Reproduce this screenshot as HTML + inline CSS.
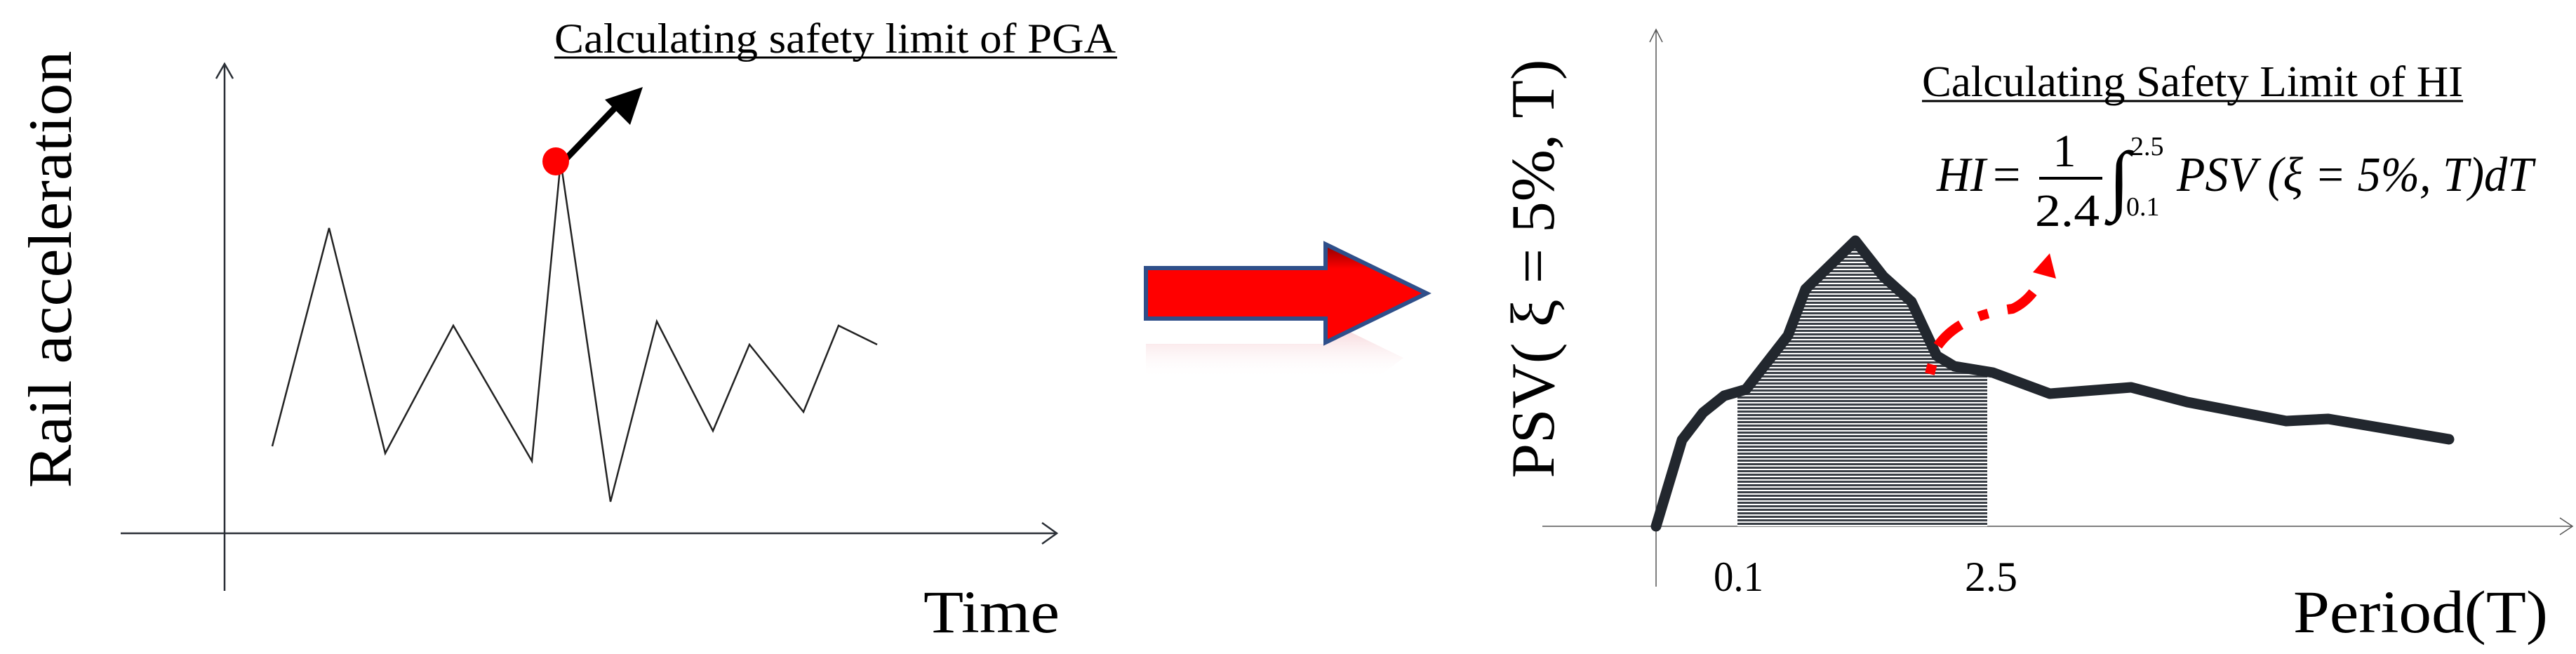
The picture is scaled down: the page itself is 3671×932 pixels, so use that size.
<!DOCTYPE html>
<html><head><meta charset="utf-8"><style>
html,body{margin:0;padding:0;background:#fff;}
svg{display:block;}
</style></head><body>
<svg width="3671" height="932" viewBox="0 0 3671 932" xmlns="http://www.w3.org/2000/svg" font-family="Liberation Serif, serif">
<defs>
<pattern id="stripes" width="10" height="5" patternUnits="userSpaceOnUse">
<rect width="10" height="5" fill="#fff"/><rect width="10" height="3" fill="#3a3f46"/>
</pattern>
<linearGradient id="rg" x1="0" y1="0" x2="0" y2="1">
<stop offset="0" stop-color="#8a0000"/><stop offset="0.25" stop-color="#f00"/><stop offset="1" stop-color="#f00"/>
</linearGradient>
<linearGradient id="refl" x1="0" y1="0" x2="0" y2="1">
<stop offset="0" stop-color="#f3c0c6" stop-opacity="0.9"/><stop offset="1" stop-color="#fff" stop-opacity="0"/>
</linearGradient>
</defs>

<!-- LEFT PLOT -->
<g stroke="#2a2f36" fill="none" stroke-width="2.5">
<line x1="320" y1="91" x2="320" y2="842"/>
<polyline points="308,112 320,91 332,112"/>
<line x1="172" y1="760" x2="1506" y2="760"/>
<polyline points="1485,745 1506,760 1485,775"/>
</g>
<polyline fill="none" stroke="#222" stroke-width="2.5" points="388,636 469,325 549,646 646,464 758,657 799,230 870,715 936,458 1016,614 1068,491 1145,587 1195,464 1250,491"/>
<line x1="805" y1="228" x2="880" y2="150" stroke="#000" stroke-width="9"/>
<polygon points="916,124 862,142 898,178" fill="#000"/>
<ellipse cx="792" cy="230" rx="19" ry="20" fill="#f00"/>
<text x="790" y="75" font-family="Liberation Serif, serif" font-size="60" textLength="800" lengthAdjust="spacingAndGlyphs">Calculating safety limit of PGA</text>
<line x1="790" y1="82" x2="1592" y2="82" stroke="#000" stroke-width="3"/>
<text transform="translate(101,384) rotate(-90)" text-anchor="middle" font-family="Liberation Serif, serif" font-size="88" textLength="623" lengthAdjust="spacingAndGlyphs">Rail acceleration</text>
<text x="1316" y="901" font-family="Liberation Serif, serif" font-size="86" textLength="194" lengthAdjust="spacingAndGlyphs">Time</text>

<!-- BIG ARROW -->
<polygon points="1633,490 1889,490 1889,456 2000,510 1960,540 1633,540" fill="url(#refl)" transform="translate(0,0)"/>
<polygon points="1633,382 1889,382 1889,348 2033,418 1889,488 1889,454 1633,454" fill="url(#rg)" stroke="#2f4f8a" stroke-width="6"/>

<!-- RIGHT PLOT -->
<g stroke="#555" fill="none" stroke-width="1.5">
<line x1="2360" y1="42" x2="2360" y2="836"/>
<polyline points="2351,60 2360,42 2369,60"/>
<line x1="2198" y1="750" x2="3666" y2="750"/>
<polyline points="3648,738 3666,750 3648,762"/>
</g>
<polygon fill="url(#stripes)" points="2476,750 2476,558 2488,555 2548,478 2573,412 2644,343 2684,394 2724,430 2760,507 2785,522 2832,530 2832,750"/>
<polyline fill="none" stroke="#22272e" stroke-width="15" stroke-linejoin="round" stroke-linecap="round" points="2360,750 2397,627 2427,588 2457,564 2488,555 2548,478 2573,412 2644,343 2684,394 2724,430 2760,507 2785,522 2840,531 2921,561 3037,552 3117,573 3258,600 3318,597 3490,626"/>
<path d="M2750,533 L2760,495 Q2790,450 2868,440 Q2890,430 2905,405" fill="none" stroke="#f00" stroke-width="14" stroke-dasharray="14,28,45,28"/>
<polygon points="2921,361 2897,388 2930,397" fill="#f00"/>

<text x="2739" y="137" font-family="Liberation Serif, serif" font-size="62" textLength="771" lengthAdjust="spacingAndGlyphs">Calculating Safety Limit of HI</text>
<line x1="2739" y1="144" x2="3510" y2="144" stroke="#000" stroke-width="3"/>
<text x="2760" y="272" font-family="Liberation Serif, serif" font-size="70" font-style="italic" textLength="70" lengthAdjust="spacingAndGlyphs">HI</text>
<text x="2840" y="272" font-family="Liberation Serif, serif" font-size="70">=</text>
<text x="2942" y="237" font-family="Liberation Serif, serif" font-size="66" text-anchor="middle">1</text>
<line x1="2906" y1="254" x2="2996" y2="254" stroke="#000" stroke-width="4"/>
<text x="2900" y="322" font-family="Liberation Serif, serif" font-size="66" textLength="92" lengthAdjust="spacingAndGlyphs">2.4</text>
<text x="3005" y="292" font-family="Liberation Serif, serif" font-size="110" font-style="italic" textLength="30" lengthAdjust="spacingAndGlyphs">∫</text>
<text x="3036" y="221" font-family="Liberation Serif, serif" font-size="38">2.5</text>
<text x="3030" y="307" font-family="Liberation Serif, serif" font-size="38">0.1</text>
<text x="3102" y="272" font-family="Liberation Serif, serif" font-size="70" font-style="italic" textLength="508" lengthAdjust="spacingAndGlyphs">PSV (ξ = 5%, T)dT</text>

<text x="2442" y="842" font-family="Liberation Serif, serif" font-size="60" textLength="71" lengthAdjust="spacingAndGlyphs">0.1</text>
<text x="2800" y="842" font-family="Liberation Serif, serif" font-size="60" textLength="75" lengthAdjust="spacingAndGlyphs">2.5</text>
<text x="3268" y="901" font-family="Liberation Serif, serif" font-size="86" textLength="363" lengthAdjust="spacingAndGlyphs">Period(T)</text>
<text transform="translate(2214,383) rotate(-90)" text-anchor="middle" font-family="Liberation Serif, serif" font-size="88" textLength="597" lengthAdjust="spacingAndGlyphs">PSV( ξ = 5%, T)</text>
</svg>
</body></html>
